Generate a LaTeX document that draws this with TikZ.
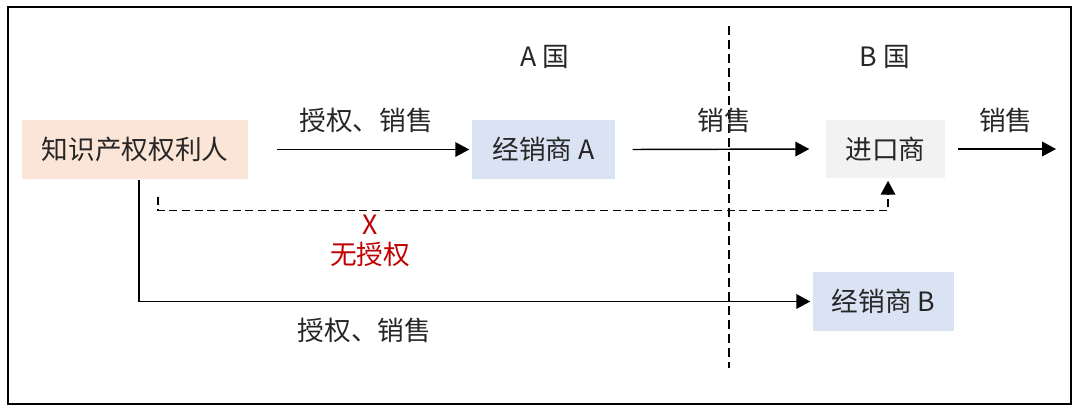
\documentclass[tikz,border=0pt]{standalone}
\usepackage{fontspec}
\setmainfont{Noto Sans CJK SC}
\usepackage{tikz}
\usetikzlibrary{arrows.meta}
\definecolor{peach}{HTML}{FBE5D6}
\definecolor{paleblue}{HTML}{DAE3F3}
\definecolor{palegray}{HTML}{F2F2F2}
\definecolor{darkred}{HTML}{C00000}
\definecolor{ink}{HTML}{262626}

\begin{document}
\begin{tikzpicture}[x=0.75pt, y=-0.75pt, font=\fontsize{20}{23}\selectfont, text=ink,
	>={Triangle[length=10.5pt,width=11pt]}, line width=1.1pt,
	box/.style={inner sep=0pt, minimum height=44.25pt},
	lbl/.style={inner sep=0pt}]
\useasboundingbox (0,0) rectangle (1080,412);
\draw[line width=1.6pt] (8,7) rectangle (1071,404);

% country border
\coordinate (bordertop) at (729,26);
\coordinate (borderbot) at (729,368);
\draw[dash pattern=on 6.75pt off 3.75pt] (bordertop) -- (borderbot);
\node[lbl] (countryA) at (545,57) {A 国};
\node[lbl] (countryB) at (885,57) {B 国};

\node[box, fill=peach, minimum width=169.5pt] (owner) at (135,149.5) {知识产权权利人};
\node[box, fill=paleblue, minimum width=107.25pt] (distA) at (543.5,149.5) {经销商 A};
\node[box, fill=palegray, minimum width=89.25pt, minimum height=43.5pt] (importer) at (885.5,149) {进口商};
\node[box, fill=paleblue, minimum width=105.75pt] (distB) at (883.5,301.5) {经销商 B};
\coordinate (market) at (1056,149);

\path[->]
([xshift=21pt]owner.east) edge [shorten >=1.5pt] node [lbl, above=12pt, pos=0.46] {授权、销售} (distA.west)
([xshift=12.75pt]distA.east) edge node [lbl, above=12pt, pos=0.52] {销售} ([xshift=-12pt]importer.west)
([xshift=9pt]importer.east) edge node [lbl, above=12pt, pos=0.49] {销售} (market)
;
\draw[->] ([xshift=3pt]owner.south) |- ([xshift=-1.5pt]distB.west)
	node [lbl, below=12pt, pos=0.668] {授权、销售};
\draw[dash pattern=on 6pt off 3.5pt, ->] ([xshift=17.25pt,yshift=-12.75pt]owner.south) -- ++(0,14)
	-| ([xshift=1.9pt,yshift=-1.5pt]importer.south);
\node[lbl, text=darkred, align=center] (noauth) at (370,241) {X\\无授权};
\end{tikzpicture}
\end{document}
